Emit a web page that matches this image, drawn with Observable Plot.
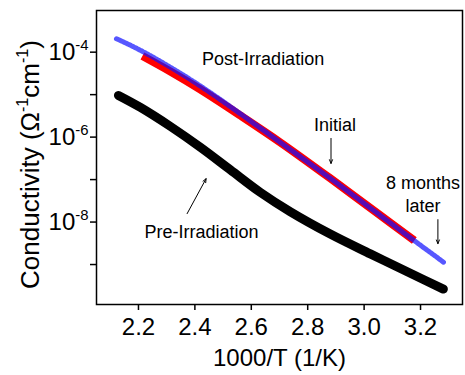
<!DOCTYPE html>
<html><head><meta charset="utf-8">
<script src="https://cdn.jsdelivr.net/npm/d3@7"></script>
<script src="https://cdn.jsdelivr.net/npm/@observablehq/plot@0.6"></script>
<style>body{margin:0;background:#fff}</style>
</head><body><div id="chart"></div>
<script>
// Pre-Irradiation (black)
const preX = [2.129, 2.207, 2.313, 2.420, 2.526, 2.632, 2.739, 2.880, 3.022, 3.164, 3.281];
const preSigma = [9.57e-6, 5.00e-6, 1.79e-6, 5.73e-7, 1.69e-7, 5.00e-8, 1.74e-8, 5.22e-9, 1.78e-9, 6.24e-10, 2.64e-10];
// Post-Irradiation, initial (red)
const initX = [2.214, 2.313, 2.420, 2.561, 2.703, 2.880, 3.057, 3.178];
const initSigma = [8.13e-5, 3.51e-5, 1.32e-5, 3.24e-6, 7.50e-7, 1.07e-7, 1.44e-8, 3.67e-9];
// Post-Irradiation, 8 months later (blue)
const laterX = [2.122, 2.172, 2.243, 2.349, 2.455, 2.561, 2.703, 2.880, 3.057, 3.181, 3.282];
const laterSigma = [2.07e-4, 1.45e-4, 8.22e-5, 3.18e-5, 1.11e-5, 3.55e-6, 7.50e-7, 1.07e-7, 1.44e-8, 3.52e-9, 1.13e-9];

const xTicks = [2.2, 2.4, 2.6, 2.8, 3.0, 3.2];
const xTickLabels = ["2.2", "2.4", "2.6", "2.8", "3.0", "3.2"];
const yTicks = [1e-9, 1e-8, 1e-7, 1e-6, 1e-5, 1e-4];
const yTickLabels = ["", "10^{-8}", "", "10^{-6}", "", "10^{-4}"];
const xLabel = "1000/T (1/K)";
const yLabel = "Conductivity (\u03A9^{-1}cm^{-1})";

const noteText = ["Post-Irradiation", "Initial", "8 months", "later", "Pre-Irradiation"];
const noteX = [2.4256, 2.897, 3.2085, 3.2085, 2.4232];
const noteY = [7.0e-5, 1.94e-6, 8.0e-8, 2.34e-8, 5.82e-9];
const noteAnchor = ["start", "middle", "middle", "middle", "middle"];

const arrowX1 = [2.8826, 3.2616, 2.3725];
const arrowY1 = [9.31e-7, 1.14e-8, 1.58e-8];
const arrowX2 = [2.8826, 3.2616, 2.4398];
const arrowY2 = [2.40e-7, 3.10e-9, 1.05e-7];

const toRows = (xs, ys) => xs.map((x, i) => ({x, y: ys[i]}));
const pre = toRows(preX, preSigma);
const init = toRows(initX, initSigma);
const later = toRows(laterX, laterSigma);
const notes = noteText.map((t, i) => ({t, x: noteX[i], y: noteY[i], a: noteAnchor[i]}));
const arrows = arrowX1.map((x1, i) => ({x1, y1: arrowY1[i], x2: arrowX2[i], y2: arrowY2[i]}));

const chart = Plot.plot({
  width: 465, height: 375,
  marginLeft: 96, marginRight: 3, marginTop: 10, marginBottom: 71,
  style: {fontFamily: "'Liberation Sans', Arial, sans-serif", fontSize: "24px", color: "#000", background: "#fff"},
  x: {domain: [2.0512, 3.3488]},
  y: {type: "log", domain: [Math.pow(10, -9.941), Math.pow(10, -3.019)]},
  marks: [
    Plot.line(pre, {x: "x", y: "y", stroke: "#000", strokeWidth: 9, curve: "catmull-rom", strokeLinecap: "round"}),
    Plot.line(init, {x: "x", y: "y", stroke: "#ff0000", strokeWidth: 8, curve: "catmull-rom", strokeLinecap: "butt"}),
    Plot.line(later, {x: "x", y: "y", stroke: "#1010ff", strokeOpacity: 0.7, strokeWidth: 5, strokeDasharray: "2,1.4", curve: "catmull-rom"}),
    Plot.axisX({ticks: xTicks, tickFormat: d => xTickLabels[xTicks.indexOf(d)], tickSize: 6, tickPadding: 7, strokeWidth: 1.5, label: null}),
    Plot.axisY({ticks: yTicks, tickFormat: d => yTickLabels[yTicks.indexOf(d)], tickSize: 6, tickPadding: 2, strokeWidth: 1.5, label: null}),
    Plot.frame({stroke: "#000", strokeWidth: 1.5}),
    Plot.text(notes, {x: "x", y: "y", text: "t", textAnchor: "start", lineAnchor: "middle", fontSize: 18, filter: d => d.a === "start"}),
    Plot.text(notes, {x: "x", y: "y", text: "t", textAnchor: "middle", lineAnchor: "middle", fontSize: 18, filter: d => d.a === "middle"}),
    Plot.arrow(arrows, {x1: "x1", y1: "y1", x2: "x2", y2: "y2", stroke: "#000", strokeWidth: 1, headLength: 6, headAngle: 45}),
    Plot.text([xLabel], {frameAnchor: "bottom", dy: 54, textAnchor: "middle", lineAnchor: "middle", fontSize: 24}),
    Plot.text([yLabel], {frameAnchor: "left", rotate: -90, dx: -66, dy: 7, textAnchor: "middle", lineAnchor: "middle", fontSize: 26})
  ]
});
document.getElementById("chart").appendChild(chart);

// render "^{...}" as real superscript tspans
chart.querySelectorAll("text").forEach(t => {
  const s = t.textContent;
  if (!s.includes("^{")) return;
  const fs = parseFloat(getComputedStyle(t).fontSize) || 23;
  const parts = s.split(/\^\{([^}]*)\}/);
  t.textContent = "";
  const shift = fs * 0.42;
  let raised = false;
  parts.forEach((p, i) => {
    if (p === "") return;
    const ts = document.createElementNS("http://www.w3.org/2000/svg", "tspan");
    ts.textContent = p;
    if (i % 2 === 1) {
      ts.setAttribute("font-size", (fs * 0.62).toFixed(1));
      if (!raised) { ts.setAttribute("dy", (-shift).toFixed(1)); raised = true; }
    } else if (raised) {
      ts.setAttribute("dy", shift.toFixed(1));
      raised = false;
    }
    t.appendChild(ts);
  });
});
</script>
</body></html>
